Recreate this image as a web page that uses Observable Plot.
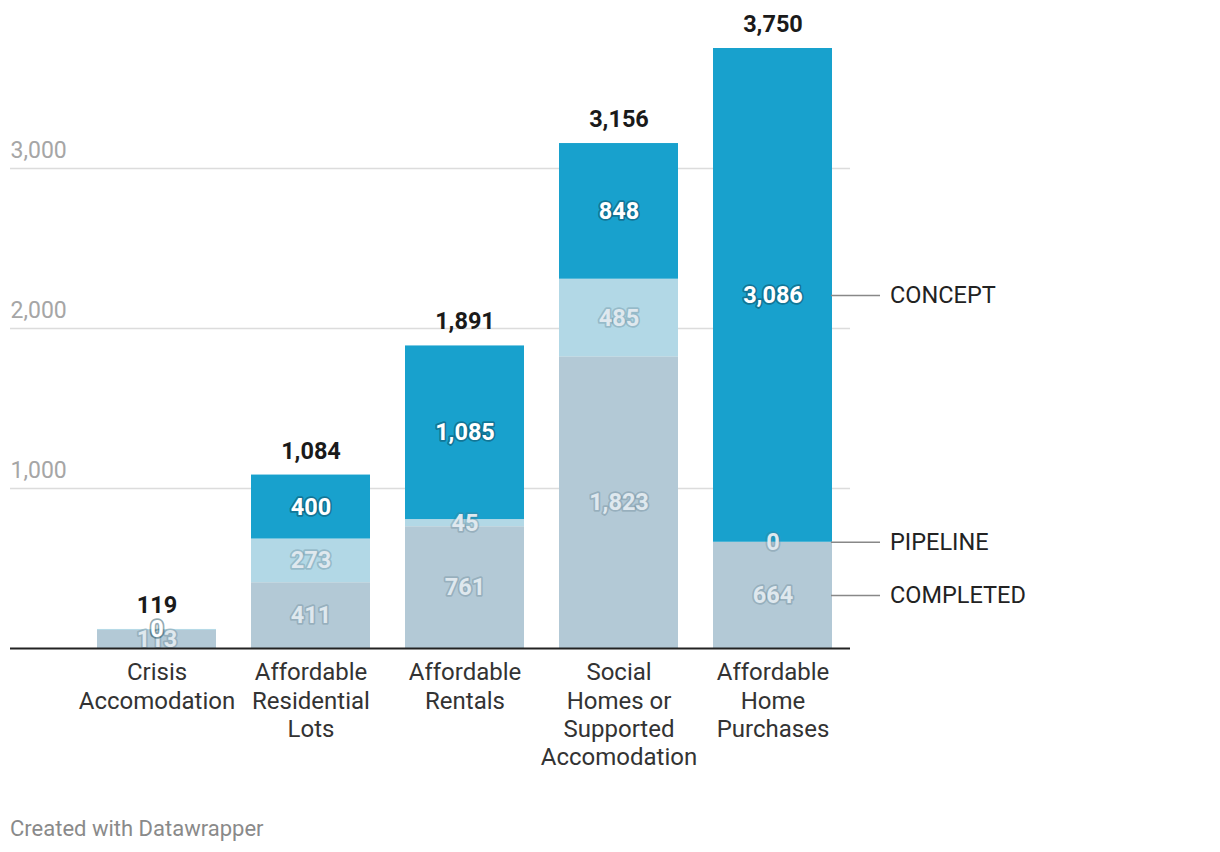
<!DOCTYPE html>
<html>
<head>
<meta charset="utf-8">
<script src="https://cdn.jsdelivr.net/npm/d3@7"></script>
<script src="https://cdn.jsdelivr.net/npm/@observablehq/plot@0.6"></script>
<style>
  body { margin: 0; background: #fff; font-family: Roboto, sans-serif; }
  #chart svg { display: block; overflow: visible; }
  #footer { margin: 17px 0 0 10px; font-size: 22px; line-height: 24px; color: #8a8a8a; }
</style>
</head>
<body>
<div id="chart"></div>
<div id="footer">Created with Datawrapper</div>
<script>
const categories = ["Crisis\nAccomodation", "Affordable\nResidential\nLots", "Affordable\nRentals", "Social\nHomes or\nSupported\nAccomodation", "Affordable\nHome\nPurchases"];
const series = ["COMPLETED", "PIPELINE", "CONCEPT"];
const completed = [113, 411, 761, 1823, 664];
const pipeline = [6, 273, 45, 485, 0];
const concept = [0, 400, 1085, 848, 3086];
const yTicks = [1000, 2000, 3000];
const colors = ["#b3c9d6", "#b2d8e6", "#18a1cd"];

const values = [completed, pipeline, concept];
const rows = [];
categories.forEach((c, i) => {
  let base = 0;
  series.forEach((s, j) => {
    const v = values[j][i];
    rows.push({category: c, series: s, value: v, mid: base + v / 2, top: base + v});
    base += v;
  });
});
// hide a segment label when the next segment's label sits (almost) on top of it
const labelRows = rows.filter((r, k) => {
  const next = rows[k + 1];
  return !(next && next.category === r.category && Math.abs(next.mid - r.mid) < 10);
});
const totals = categories.map((c, i) => ({category: c, total: completed[i] + pipeline[i] + concept[i]}));
const lastCat = categories[categories.length - 1];
const legendRows = rows.filter(r => r.category === lastCat);
const fmt = d3.format(",");

const chart = Plot.plot({
  width: 1220,
  height: 800,
  marginLeft: 10,
  marginRight: 370,
  marginTop: 48,
  marginBottom: 152,
  style: {fontFamily: "Roboto, sans-serif", overflow: "visible"},
  x: {domain: categories, paddingInner: 0.23, paddingOuter: 0.34, align: 0.83, axis: null, label: null},
  y: {domain: [0, 3750], axis: null},
  color: {domain: series, range: colors},
  marks: [
    Plot.gridY(yTicks, {stroke: "#dcdcdc", strokeOpacity: 1, strokeWidth: 1.5}),
    Plot.text(yTicks, {y: d => d, text: d => fmt(d), frameAnchor: "left", textAnchor: "start", dy: -18, fontSize: 23, fill: "#a6a6a6"}),
    Plot.barY(rows, {x: "category", y: "value", fill: "series"}),
    Plot.text(labelRows.filter(r => r.series !== "CONCEPT"), {x: "category", y: "mid", text: d => fmt(d.value), fontSize: 23.5, fontWeight: "bold", fill: "#dfe8ee", stroke: "#50707f", strokeOpacity: 0.28, strokeWidth: 3.5}),
    Plot.text(labelRows.filter(r => r.series === "CONCEPT"), {x: "category", y: "mid", text: d => fmt(d.value), fontSize: 23.5, fontWeight: "bold", fill: "#ffffff", stroke: "#0b3f52", strokeOpacity: 0.45, strokeWidth: 3.5}),
    Plot.text(totals, {x: "category", y: "total", text: d => fmt(d.total), dy: -24, fontSize: 23.5, fontWeight: "bold", fill: "#1a1a1a"}),
    Plot.ruleY([0], {stroke: "#222", strokeWidth: 2}),
    Plot.axisX({label: null, tickSize: 0, tickPadding: 12, fontSize: 24, lineHeight: 1.17, fill: "#333", textAnchor: "middle"}),
    Plot.tickY(legendRows, {x: "category", y: "mid", dx: 118, insetRight: 70, stroke: "#888", strokeWidth: 1.5}),
    Plot.text(legendRows, {x: "category", y: "mid", text: "series", dx: 117, textAnchor: "start", fontSize: 23.5, fill: "#222"})
  ]
});
document.getElementById("chart").appendChild(chart);
</script>
</body>
</html>
